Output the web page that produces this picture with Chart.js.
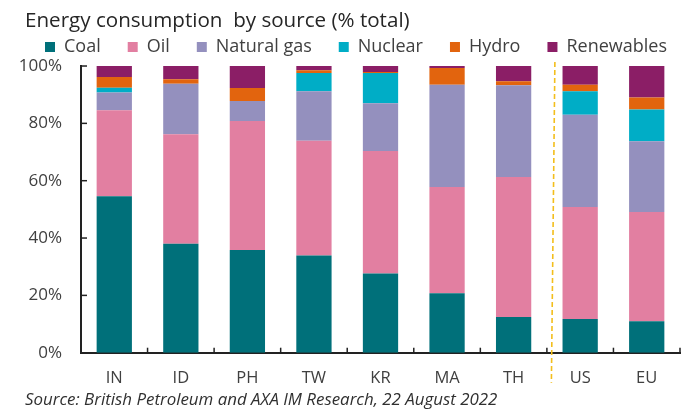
<!DOCTYPE html>
<html>
<head>
<meta charset="utf-8">
<script src="https://cdn.jsdelivr.net/npm/chart.js@4/dist/chart.umd.min.js"></script>
<style>
  html, body { margin: 0; padding: 0; background: #ffffff; }
  #wrap { position: relative; width: 688px; height: 410px; }
</style>
</head>
<body>
<div id="wrap"><canvas id="c" width="688" height="410"></canvas></div>
<script>
// ---- Data ----
const categories = ['IN', 'ID', 'PH', 'TW', 'KR', 'MA', 'TH', 'US', 'EU'];
const coal       = [54.6, 38.0, 35.8, 33.9, 27.6, 20.7, 12.5, 11.8, 11.0];
const oil        = [30.0, 38.2, 45.0, 40.0, 42.8, 37.1, 48.8, 39.0, 38.1];
const naturalGas = [ 6.2, 17.6,  7.0, 17.3, 16.6, 35.7, 32.0, 32.2, 24.7];
const nuclear    = [ 1.6,  0.0,  0.0,  6.4, 10.6,  0.0,  0.0,  8.2, 11.0];
const hydro      = [ 3.8,  1.6,  4.5,  0.9,  0.3,  5.8,  1.4,  2.3,  4.2];
const renewables = [ 3.8,  4.6,  7.7,  1.5,  2.1,  0.7,  5.3,  6.5, 11.0];
const yTicks     = [0, 20, 40, 60, 80, 100];
const seriesNames = ['Coal', 'Oil', 'Natural gas', 'Nuclear', 'Hydro', 'Renewables'];
const titleText  = 'Energy consumption  by source (% total)';
const sourceText = 'Source: British Petroleum and AXA IM Research, 22 August 2022';

const colors = ['#00707a', '#e27fa1', '#9490be', '#00adc6', '#e2640e', '#8b1e66'];
const seriesData = [coal, oil, naturalGas, nuclear, hydro, renewables];

Chart.defaults.font.family = "'Open Sans', 'DejaVu Sans', sans-serif";
Chart.defaults.color = '#404040';

const decorPlugin = {
  id: 'decor',
  beforeDraw(chart) {
    // title / source start at x=25, legend row placed like the reference
    chart.boxes.forEach(b => {
      if (b.options && (b.options.text === titleText || b.options.text === sourceText)) {
        b.left = 25;
      }
    });
    if (chart.legend) {
      chart.legend.left = 18;
      chart.legend.top = 11;
      chart.legend.right = 900;
    }
  },
  afterDraw(chart) {
    const ctx = chart.ctx;
    const x = chart.scales.x, y = chart.scales.y;
    const area = chart.chartArea;
    ctx.save();
    ctx.strokeStyle = '#222222';
    ctx.lineWidth = 1.5;
    // inward y tick marks
    yTicks.forEach(v => {
      const py = y.getPixelForValue(v);
      ctx.beginPath();
      ctx.moveTo(area.left, py);
      ctx.lineTo(area.left + 6, py);
      ctx.stroke();
    });
    // inward x tick marks at category boundaries
    for (let i = 0; i < categories.length; i++) {
      let px;
      if (i < categories.length - 1) {
        px = (x.getPixelForValue(i) + x.getPixelForValue(i + 1)) / 2;
      } else {
        px = area.right;
      }
      ctx.beginPath();
      ctx.moveTo(px, area.bottom);
      ctx.lineTo(px, area.bottom - 5);
      ctx.stroke();
    }
    // dashed separator between TH and US
    const bx = (x.getPixelForValue(6) + x.getPixelForValue(7)) / 2;
    ctx.strokeStyle = '#f3be1c';
    ctx.lineWidth = 1.6;
    ctx.setLineDash([5, 3]);
    ctx.beginPath();
    ctx.moveTo(bx + 8, area.top - 4);
    ctx.lineTo(bx + 4.5, area.bottom + 30);
    ctx.stroke();
    ctx.restore();
  }
};

new Chart(document.getElementById('c'), {
  type: 'bar',
  data: {
    labels: categories,
    datasets: seriesNames.map((name, i) => ({
      label: name,
      data: seriesData[i],
      backgroundColor: colors[i],
      borderWidth: 0,
      categoryPercentage: 1.0,
      barPercentage: 0.53
    }))
  },
  options: {
    responsive: false,
    animation: false,
    devicePixelRatio: 1,
    layout: { padding: { left: 14, right: 8, top: 0, bottom: 0 } },
    plugins: {
      tooltip: { enabled: false },
      title: {
        display: true,
        text: titleText,
        align: 'start',
        color: '#262626',
        font: { size: 20.6, weight: 'normal' },
        padding: { top: 9, bottom: 2.3 }
      },
      subtitle: {
        display: true,
        text: sourceText,
        position: 'bottom',
        align: 'start',
        color: '#303030',
        font: { size: 16.9, style: 'italic', weight: 'normal' },
        padding: { top: 2, bottom: 0 }
      },
      legend: {
        display: true,
        position: 'top',
        align: 'start',
        maxHeight: 30,
        labels: {
          boxWidth: 10,
          boxHeight: 10,
          padding: 27,
          color: '#404040',
          font: { size: 18 }
        }
      }
    },
    scales: {
      x: {
        stacked: true,
        grid: { display: false, drawTicks: false },
        border: { display: true, color: '#222222', width: 2 },
        afterFit(scale) { scale.height = 35; },
        ticks: { color: '#404040', font: { size: 16.5 }, padding: 16, maxRotation: 0, autoSkip: false }
      },
      y: {
        stacked: true,
        min: 0,
        max: 100,
        grid: { display: false, drawTicks: false },
        border: { display: true, color: '#222222', width: 2 },
        afterFit(scale) { scale.width = 67; },
        afterBuildTicks(scale) { scale.ticks = yTicks.map(v => ({ value: v })); },
        ticks: {
          color: '#404040',
          font: { size: 17 },
          padding: 19,
          callback: v => v + '%'
        }
      }
    }
  },
  plugins: [decorPlugin]
});
</script>
</body>
</html>
